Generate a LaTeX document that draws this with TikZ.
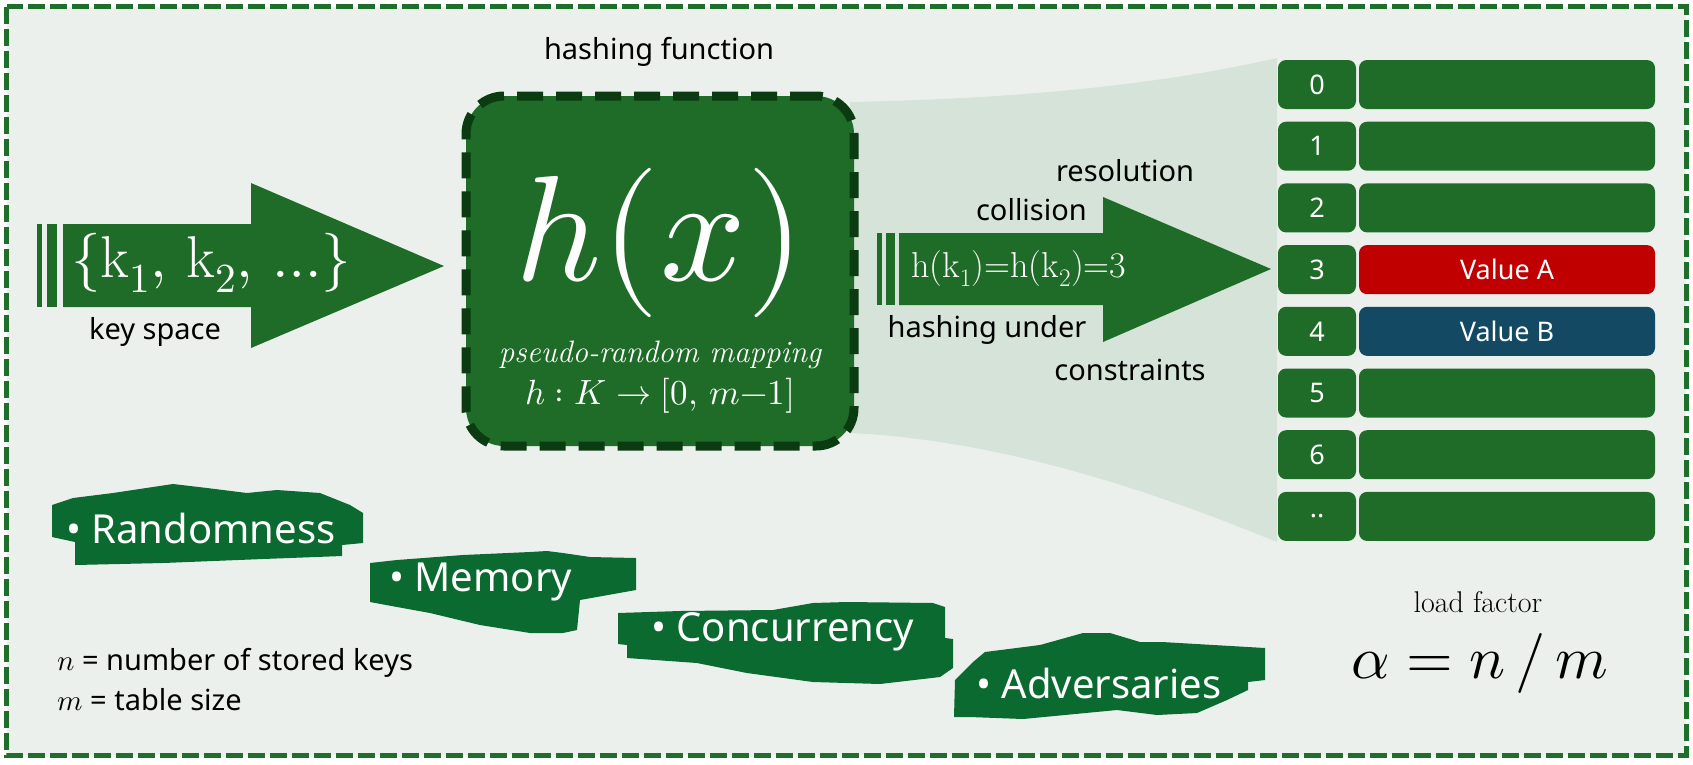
\documentclass[tikz,border=0pt]{standalone}
\usepackage{fontspec}
\usepackage{unicode-math}
\setmathfont{Latin Modern Math}
\newfontfamily\sansf{Noto Sans}
\definecolor{bgc}{HTML}{EBF0EC}
\definecolor{borderc}{HTML}{1F6F2B}
\definecolor{gc}{HTML}{1E6C27}
\definecolor{darkc}{HTML}{0B3B10}
\definecolor{blobc}{HTML}{0A6A2F}
\definecolor{funnelc}{HTML}{D5E3D8}
\definecolor{redc}{HTML}{C00000}
\definecolor{bluec}{HTML}{134963}
\tikzset{
  lbl/.style={inner sep=0pt, text=black, font=\sansf\fontsize{29}{34}\selectfont},
  idxbox/.style={fill=gc, rounded corners=8pt, minimum width=78pt, minimum height=49pt, inner sep=0pt, text=white, font=\sansf\fontsize{27}{32}\selectfont},
  valbox/.style={fill=gc, rounded corners=8pt, minimum width=296pt, minimum height=49pt, inner sep=0pt, text=white, font=\sansf\fontsize{27}{32}\selectfont},
  blobtext/.style={inner sep=0pt, anchor=west, text=white, font=\sansf\fontsize{40}{46}\selectfont},
}
\begin{document}
\begin{tikzpicture}[x=1pt,y=-1pt]
\useasboundingbox (0,0) rectangle (1693,764);
\fill[white] (0,0) rectangle (1693,764);
\fill[bgc] (6.5,6.5) rectangle (1686,755);
\draw[borderc, line width=5pt, dash pattern=on 17pt off 5pt] (6.5,6.5) rectangle (1686,755);

% funnel
\fill[funnelc] (850,102) .. controls (1050,98) and (1180,80) .. (1277,58) -- (1277,542) .. controls (1150,490) and (1000,440) .. (850,433) -- cycle;

% hashing function box
\node[fill=gc, draw=darkc, line width=9pt, dash pattern=on 26pt off 13pt, rounded corners=38pt, minimum width=388pt, minimum height=350pt, inner sep=0pt] (hf) at (660,271) {};
\node[inner sep=0pt, text=white, font=\fontsize{150}{170}\selectfont] (hx) at (660,243) {$h(x)$};
\node[inner sep=0pt, text=white, font=\fontsize{31}{36}\selectfont\itshape] (prm) at (660,355) {pseudo-random mapping};
\node[inner sep=0pt, text=white, font=\fontsize{35}{40}\selectfont] (hmap) at (660,396) {$h : K \rightarrow [0,\, m{-}1]$};
\node[lbl] (hft) at (659,52) {hashing function};

% key space arrow
\fill[gc] (63,224) -- (251,224) -- (251,183) -- (444,266) -- (251,348) -- (251,307) -- (63,307) -- cycle;
\fill[gc] (37,224) rectangle (42,307);
\fill[gc] (47,224) rectangle (57,307);
\node[inner sep=0pt, anchor=west, text=white, font=\fontsize{59}{66}\selectfont] (keys) at (71,263) {$\{\mathrm{k}_1,\, \mathrm{k}_2,\, \ldots\}$};
\node[lbl] (ks) at (155,332) {key space};

% collision arrow
\fill[gc] (899,233) -- (1103,233) -- (1103,197) -- (1271,269) -- (1103,342) -- (1103,305) -- (899,305) -- cycle;
\fill[gc] (877,233) rectangle (882,305);
\fill[gc] (886,233) rectangle (895,305);
\node[inner sep=0pt, anchor=west, text=white, font=\fontsize{36}{40}\selectfont] (eq) at (911,269) {h(k\textsubscript{1})=h(k\textsubscript{2})=3};
\node[lbl] (res) at (1125,171) {resolution};
\node[lbl, anchor=east] (col) at (1087,210) {collision};
\node[lbl] (hu) at (987,330) {hashing under};
\node[lbl] (con) at (1130,370) {constraints};

% table
\foreach \i/\lab in {0/0,1/1,2/2,5/5,6/6,7/..}{
  \node[idxbox] (i\i) at (1317,{84.5+61.7*\i}) {\lab};
  \node[valbox] (v\i) at (1507,{84.5+61.7*\i}) {};
}
\node[idxbox] (i3) at (1317,{84.5+61.7*3}) {3};
\node[valbox, fill=redc] (v3) at (1507,{84.5+61.7*3}) {Value A};
\node[idxbox] (i4) at (1317,{84.5+61.7*4}) {4};
\node[valbox, fill=bluec] (v4) at (1507,{84.5+61.7*4}) {Value B};

% blobs
\fill[blobc] (52,505) -- (73,498) -- (113,493) -- (173,484) -- (207,488) -- (247,493) -- (277,490) -- (320,493) -- (350,505) -- (363,513) -- (363,543) -- (342,545) -- (342,556) -- (263,559) -- (163,563) -- (75,565) -- (75,542) -- (52,537) -- cycle;
\node[blobtext] (rnd) at (66,528) {• Randomness};

\fill[blobc] (370,563) -- (397,560) -- (463,555) -- (530,552) -- (547,551) -- (563,553) -- (590,557) -- (636,558) -- (636,590) -- (580,600) -- (577,630) -- (563,633) -- (530,633) -- (480,625) -- (430,613) -- (397,607) -- (370,602) -- cycle;
\node[blobtext] (mem) at (389,582) {• Memory};

\fill[blobc] (618,613) -- (680,611) -- (773,610) -- (813,603) -- (847,602) -- (933,603) -- (945,607) -- (945,638) -- (953,639) -- (953,668) -- (940,677) -- (880,684) -- (813,682) -- (747,673) -- (697,663) -- (627,658) -- (627,645) -- (618,644) -- cycle;
\node[blobtext] (conc) at (651,632) {• Concurrency};

\fill[blobc] (985,652) -- (1040,645) -- (1083,633) -- (1110,633) -- (1140,642) -- (1162,642) -- (1265,648) -- (1265,680) -- (1248,682) -- (1248,690) -- (1227,700) -- (1197,713) -- (1157,715) -- (1117,710) -- (1023,719) -- (970,717) -- (954,717) -- (955,680) -- (973,662) -- cycle;
\node[blobtext] (adv) at (976,683) {• Adversaries};

% definitions
\node[lbl, anchor=west, font=\sansf\fontsize{29}{34}\selectfont] (ndef) at (57,663) {$n$ = number of stored keys};
\node[lbl, anchor=west, font=\sansf\fontsize{29}{34}\selectfont] (mdef) at (57,700) {$m$ = table size};

% load factor
\node[inner sep=0pt, font=\fontsize{30}{36}\selectfont] (lf) at (1478,602) {load factor};
\node[inner sep=0pt, font=\fontsize{60}{70}\selectfont] (alpha) at (1480,663) {$\alpha = n\,/\,m$};
\end{tikzpicture}
\end{document}
